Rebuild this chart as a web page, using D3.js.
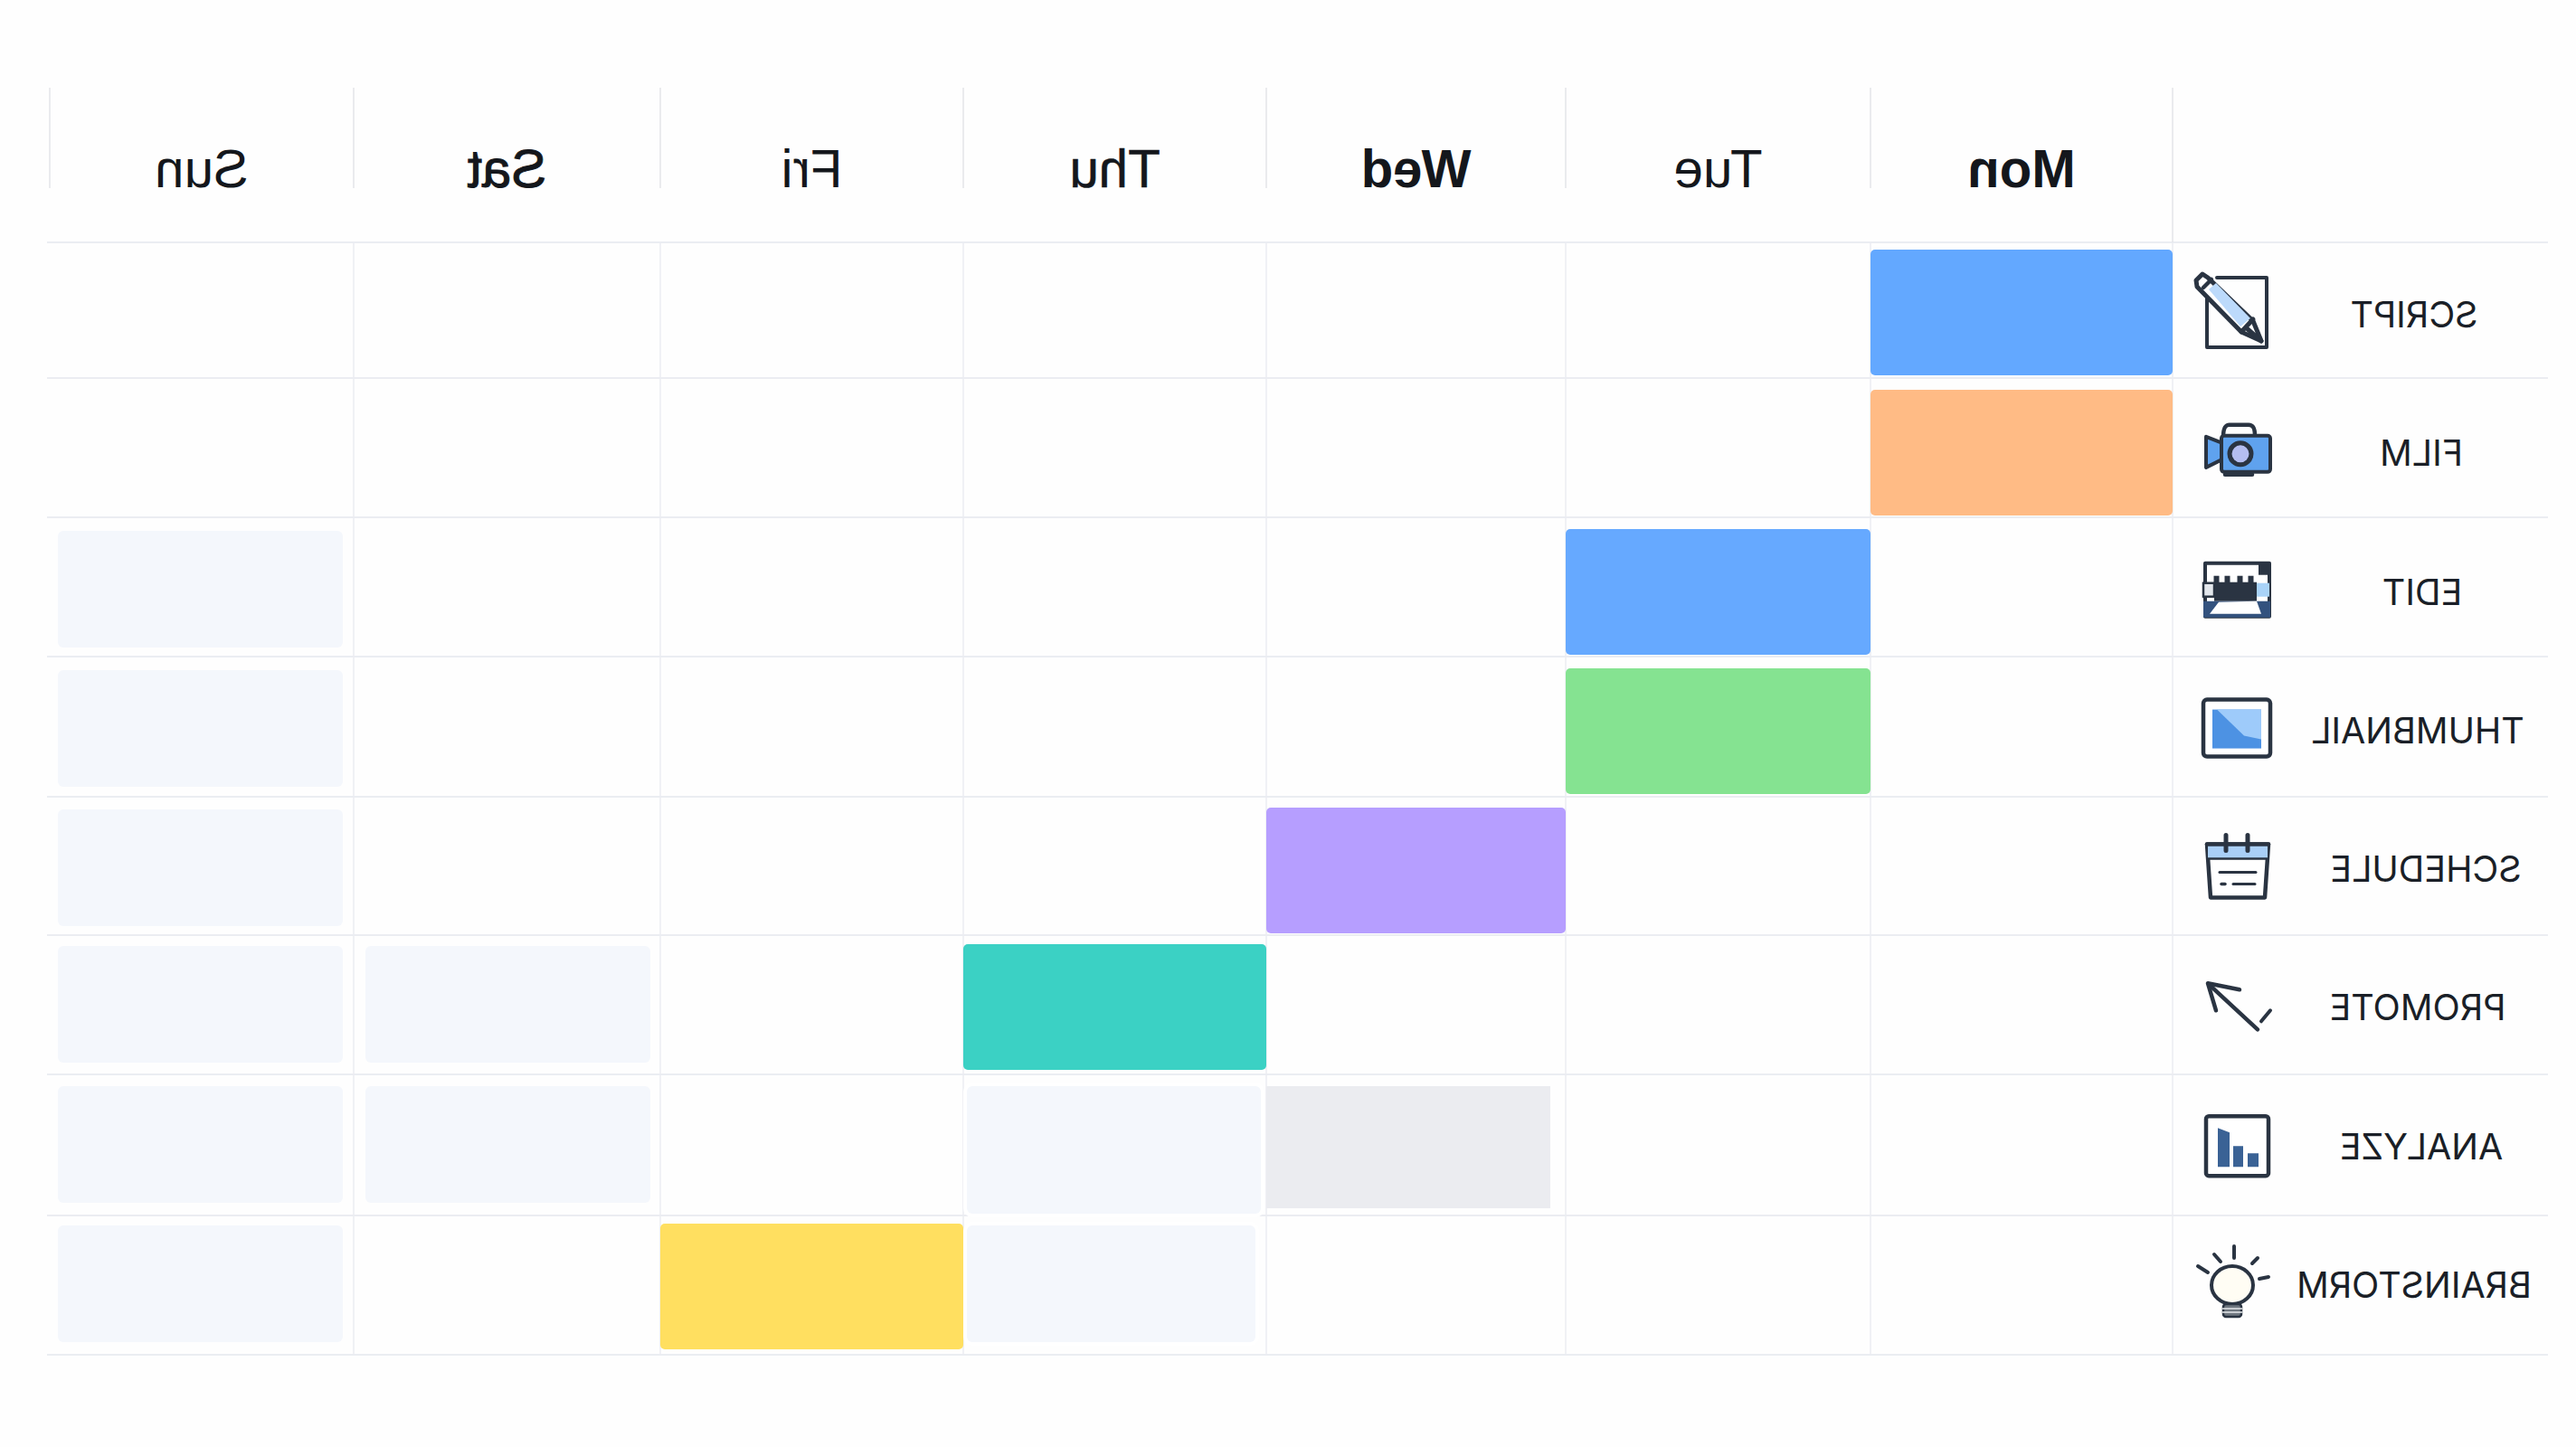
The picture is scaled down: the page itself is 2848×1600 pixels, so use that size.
<!DOCTYPE html>
<html>
<head>
<meta charset="utf-8">
<script src="https://cdn.jsdelivr.net/npm/d3@7"></script>
<style>
  html, body { margin: 0; padding: 0; background: #fefefe; }
  svg { display: block; }
</style>
</head>
<body>
<div id="chart"></div>
<script>
const days = ["Mon", "Tue", "Wed", "Thu", "Fri", "Sat", "Sun"];
const tasks = ["SCRIPT", "FILM", "EDIT", "THUMBNAIL", "SCHEDULE", "PROMOTE", "ANALYZE", "BRAINSTORM"];

// the day each task is booked on (ANALYZE has no coloured block)
const bookedDays = ["Mon", "Mon", "Tue", "Tue", "Wed", "Thu", null, "Fri"];

// pale empty slots, as [task, day]
const paleSlots = [
  ["EDIT", "Sun"], ["THUMBNAIL", "Sun"], ["SCHEDULE", "Sun"],
  ["PROMOTE", "Sun"], ["PROMOTE", "Sat"],
  ["ANALYZE", "Sun"], ["ANALYZE", "Sat"], ["ANALYZE", "Thu"],
  ["BRAINSTORM", "Sun"], ["BRAINSTORM", "Thu"]
];
const greySlots = [["ANALYZE", "Wed"]];

const width = 2848;
const height = 1600;
const ink = "#2a3442";
const gridColor = "#ebedf2";

const svg = d3.select("#chart").append("svg")
  .attr("width", width)
  .attr("height", height)
  .attr("viewBox", [0, 0, width, height]);

// the picture reads right to left, Mon sits next to the task names
const colEdge = d3.scaleLinear()
  .domain(d3.range(days.length + 1))
  .range([2402, 2068, 1731, 1400, 1065, 730, 391, 55]);
const rowEdge = d3.scaleLinear()
  .domain(d3.range(tasks.length + 1))
  .range([268, 418, 572, 726, 881, 1034, 1188, 1344, 1498]);

const dayLeft = d => colEdge(days.indexOf(d) + 1);
const dayRight = d => colEdge(days.indexOf(d));

const blockTop = d3.scaleOrdinal(tasks, [276, 431, 585, 739, 893, 1044, 1199, 1353]);
const labelX = d3.scaleOrdinal(tasks, [2669, 2677, 2678, 2673, 2682, 2673, 2677, 2669]);
const labelY = d3.scalePoint().domain(tasks).range([362, 1435]);
const iconY = d3.scalePoint().domain(tasks).range([344, 1421]);

const taskColor = d3.scaleOrdinal(tasks, [
  "#63a8ff", "#ffbb85", "#66a9ff", "#85e391", "#b69eff", "#3bd1c4", "#ebecf0", "#ffdf60"
]);

// grid
const grid = svg.append("g").attr("stroke", gridColor);
grid.selectAll(".row-line").data(d3.range(tasks.length + 1)).join("line")
  .attr("class", "row-line")
  .attr("x1", 52).attr("x2", 2817)
  .attr("y1", d => rowEdge(d)).attr("y2", d => rowEdge(d))
  .attr("stroke-width", 2);
grid.selectAll(".col-line").data(d3.range(days.length)).join("line")
  .attr("class", "col-line")
  .attr("x1", d => colEdge(d)).attr("x2", d => colEdge(d))
  .attr("y1", 268).attr("y2", 1498)
  .attr("stroke-width", 1.5);
grid.selectAll(".head-line").data(d3.range(days.length + 1)).join("line")
  .attr("class", "head-line")
  .attr("x1", d => colEdge(d)).attr("x2", d => colEdge(d))
  .attr("y1", 97).attr("y2", d => d === 0 ? 268 : 208)
  .attr("stroke", "#e3e4e8")
  .attr("stroke-width", 1.5);

// pale and grey slots
const paleInset = { Sun: 9, Sat: 13, Thu: 4 };
svg.selectAll(".pale").data(paleSlots).join("rect")
  .attr("class", "pale")
  .attr("x", d => dayLeft(d[1]) + paleInset[d[1]])
  .attr("y", d => blockTop(d[0]) + 2)
  .attr("width", d => d[1] === "Thu" ? (d[0] === "ANALYZE" ? 325 : 319) : 315)
  .attr("height", d => d[0] === "ANALYZE" && d[1] === "Thu" ? 141 : 129)
  .attr("rx", 6)
  .attr("fill", "#f4f7fc")
  .attr("stroke", d => d[1] === "Thu" ? "#ffffff" : "none")
  .attr("stroke-width", 8)
  .style("paint-order", "stroke");

svg.selectAll(".grey").data(greySlots).join("rect")
  .attr("class", "grey")
  .attr("x", d => dayLeft(d[1]))
  .attr("y", d => blockTop(d[0]) + 2)
  .attr("width", 314)
  .attr("height", 135)
  .attr("fill", taskColor("ANALYZE"));

// coloured blocks
svg.selectAll(".block")
  .data(tasks.map((t, i) => ({ task: t, day: bookedDays[i] })).filter(d => d.day))
  .join("rect")
  .attr("class", "block")
  .attr("x", d => dayLeft(d.day))
  .attr("y", d => blockTop(d.task))
  .attr("width", d => dayRight(d.day) - dayLeft(d.day))
  .attr("height", 139)
  .attr("rx", 5)
  .attr("fill", d => taskColor(d.task));

// mirrored day headers
const dayStroke = { Sat: 1, Thu: 0.6 };
svg.selectAll(".day").data(days).join("text")
  .attr("class", "day")
  .attr("transform", d => `translate(${(dayLeft(d) + dayRight(d)) / 2},207) scale(-0.97,1)`)
  .attr("text-anchor", "middle")
  .attr("font-family", "'Liberation Sans', sans-serif")
  .attr("font-size", 60)
  .attr("font-weight", d => d === "Mon" || d === "Wed" ? 700 : 400)
  .attr("fill", "#14171c")
  .attr("stroke", "#14171c")
  .attr("stroke-width", d => dayStroke[d] || 0)
  .text(d => d);

// mirrored task names
svg.selectAll(".task").data(tasks).join("text")
  .attr("class", "task")
  .attr("transform", d => `translate(${labelX(d)},${labelY(d)}) scale(-1,1)`)
  .attr("text-anchor", "middle")
  .attr("font-family", "Inter, sans-serif")
  .attr("font-size", 39.5)
  .attr("fill", "#1a1f27")
  .text(d => d);

// icons, drawn around their own centre
const iconDrawers = {
  SCRIPT(g) {
    g.append("path").attr("d", "M-22,-37 H33 V40 H-33 V-16").call(outline, 4);
    g.append("path").attr("d", "M-45,-34 L-38,-41 L-32,-37 L18,11 L27,33 L5,23 L-44,-27 Z")
      .call(outline, 5).attr("fill", "#ffffff");
    g.append("path").attr("d", "M-31,-24 L-23,-31 L15,8 L4,17 Z").attr("fill", "#bcdafb");
    g.append("path").attr("d", "M-37,-26 L-28,-35").call(outline, 4.5);
    g.append("path").attr("d", "M5,23 L18,9 M27,33 L12,20").call(outline, 5);
  },
  FILM(g) {
    g.append("path").attr("d", "M-15,-15 C-15,-26 -12,-28 -8,-28 H13 C18,-28 20,-25 20,-16").call(outline, 4.5);
    g.append("path").attr("d", "M-34,-15 L-16,-8 V10 L-34,19 Z").call(outline, 4).attr("fill", "#5fa2ee");
    g.append("rect").attr("x", -17).attr("y", -16).attr("width", 54).attr("height", 40).attr("rx", 3)
      .call(outline, 4).attr("fill", "#5fa2ee");
    g.append("circle").attr("cx", 4).attr("cy", 4).attr("r", 12).call(outline, 5).attr("fill", "#b4bdf0");
    g.append("path").attr("d", "M-13,27 H17").call(outline, 4.5);
  },
  EDIT(g) {
    g.append("rect").attr("x", -35).attr("y", -29).attr("width", 71).attr("height", 59)
      .call(outline, 4).attr("fill", "#ffffff");
    g.append("rect").attr("x", 24).attr("y", -29).attr("width", 13).attr("height", 13).attr("fill", ink);
    g.append("rect").attr("x", -25).attr("y", -8).attr("width", 47).attr("height", 21).attr("fill", ink);
    [-23, -11, 3, 15].forEach(x => {
      g.append("rect").attr("x", x - 2.5).attr("y", -15).attr("width", 6).attr("height", 9).attr("fill", ink);
    });
    g.append("rect").attr("x", -37).attr("y", -7).attr("width", 12).attr("height", 15).attr("fill", "#e3e7ec").attr("stroke", ink).attr("stroke-width", 2.5);
    g.append("rect").attr("x", 22).attr("y", -7).attr("width", 14).attr("height", 15).attr("fill", "#a9d3f8");
    g.append("path").attr("d", "M-37,13 H37 V31 H-37 Z").attr("fill", "#33527e");
    g.append("path").attr("d", "M-30,27 L-20,14 L22,13 L27,27 Z").attr("fill", "#ffffff");
  },
  THUMBNAIL(g) {
    g.append("rect").attr("x", -37).attr("y", -32).attr("width", 74).attr("height", 63).attr("rx", 4)
      .call(outline, 4.5).attr("fill", "#ffffff");
    g.append("rect").attr("x", -27).attr("y", -21).attr("width", 54).attr("height", 43).attr("fill", "#4d92e3");
    g.append("path").attr("d", "M-22,-21 H27 V12 L8,8 Z").attr("fill", "#9ecbfa");
  },
  SCHEDULE(g) {
    g.append("path").attr("d", "M-33,-26 H35 L31,33 H-29 Z").call(outline, 4.5).attr("fill", "#ffffff");
    g.append("path").attr("d", "M-32,-27 H34 V-10 H-32 Z").attr("fill", "#a9cff7");
    g.append("path").attr("d", "M-32,-10 H34").call(outline, 2.5);
    g.append("path").attr("d", "M-33,-26 H35").call(outline, 4.5);
    g.append("path").attr("d", "M-12,-36 V-19 M12,-36 V-19").call(outline, 5);
    g.append("path").attr("d", "M-19,5 H21").call(outline, 3);
    g.append("path").attr("d", "M-17,18 H-13").call(outline, 3.5);
    g.append("path").attr("d", "M-4,18 H20").call(outline, 3);
  },
  PROMOTE(g) {
    g.append("path").attr("d", "M23,25 L-31,-25").call(outline, 4.5);
    g.append("path").attr("d", "M3,-19 L-32,-26 L-23,4").call(outline, 4.5);
    g.append("path").attr("d", "M27,16 L37,4").call(outline, 4);
  },
  ANALYZE(g) {
    g.append("rect").attr("x", -34).attr("y", -33).attr("width", 69).attr("height", 66).attr("rx", 3)
      .call(outline, 4.5).attr("fill", "#ffffff");
    g.append("path").attr("d", "M-21,-20 L-8,-15 V23 H-21 Z M-4,0 H7 V23 H-4 Z M12,8 H24 V23 H12 Z").attr("fill", "#3a6295");
  },
  BRAINSTORM(g) {
    g.append("ellipse").attr("cx", -5).attr("cy", 0).attr("rx", 23).attr("ry", 21)
      .call(outline, 4).attr("fill", "#fffdf4");
    g.append("rect").attr("x", -15).attr("y", 21).attr("width", 20).attr("height", 14).attr("rx", 3).attr("fill", "#6f7780").attr("stroke", ink).attr("stroke-width", 2.5);
    g.append("path").attr("d", "M-16,26 H6 M-16,30 H6").attr("stroke", "#e5e7ea").attr("stroke-width", 1.5);
    g.append("path").attr("d", "M-3,-43 V-30 M-25,-34 L-18,-26 M17,-24 L23,-30 M-43,-21 L-32,-14 M25,-7 L35,-9").call(outline, 4);
  }
};

function outline(sel, w) {
  sel.attr("fill", "none")
    .attr("stroke", ink)
    .attr("stroke-width", w)
    .attr("stroke-linecap", "round")
    .attr("stroke-linejoin", "round");
}

svg.selectAll(".icon").data(tasks).join("g")
  .attr("class", "icon")
  .attr("transform", d => `translate(2473,${iconY(d)})`)
  .each(function (d) { iconDrawers[d](d3.select(this)); });
</script>
</body>
</html>
